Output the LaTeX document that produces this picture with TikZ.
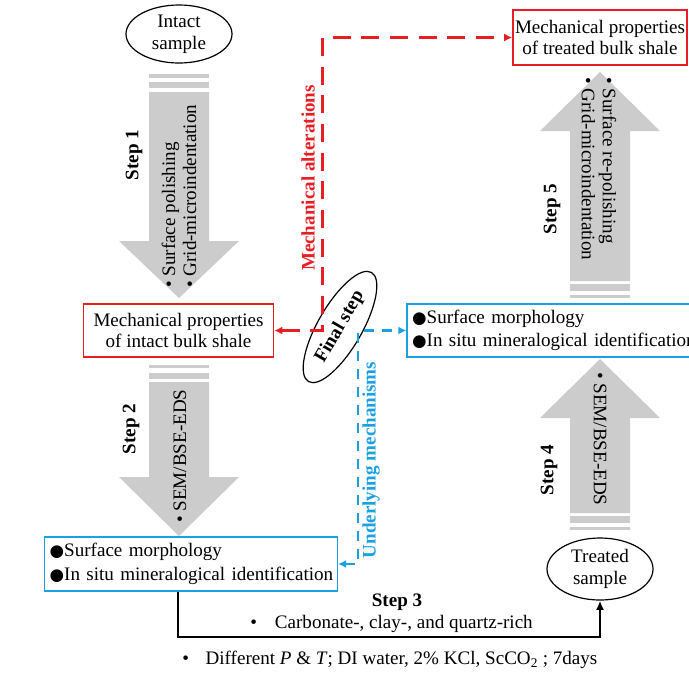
\documentclass[tikz,border=0pt]{standalone}
\usepackage{fontspec}
\setmainfont{Liberation Serif}
\newfontfamily\symfont{DejaVu Sans}
\usetikzlibrary{shapes.geometric,arrows.meta}
\definecolor{myred}{RGB}{232,30,36}
\definecolor{myblue}{RGB}{27,161,226}
\definecolor{arrowgray}{RGB}{204,204,204}
\newcommand\fs{\fontsize{14.3}{17}\selectfont}
\newcommand\bul{{\symfont\fontsize{12.5}{17}\selectfont ●}}
\begin{document}
\begin{tikzpicture}[x=0.75pt,y=-0.75pt,
  every node/.style={font=\fs, inner sep=0pt},
  boldlbl/.style={font=\fs\bfseries},
  redbox/.style={draw=myred, line width=1.2pt, align=center, font=\fontsize{14.3}{16}\selectfont},
  bluebox/.style={draw=myblue, line width=1.2pt, align=left, font=\fontsize{14.3}{17.5}\selectfont},
  sample/.style={draw, ellipse, line width=0.9pt, align=center, font=\fontsize{14.3}{16.5}\selectfont},
  arrtext/.style={align=left, font=\fontsize{14.3}{15.8}\selectfont},
  reddash/.style={draw=myred, line width=1.9pt, dash pattern=on 13.5pt off 8pt},
  bluedash/.style={draw=myblue, line width=1.7pt, dash pattern=on 7.5pt off 6pt},
  conn/.style={draw=black, line width=1.7pt, -{Latex[length=7pt,width=6pt]}},
  mytip/.tip={Latex[length=6pt,width=6pt]}
]
\useasboundingbox (0,0) rectangle (689,672);

% ---- gray process arrows ----
% Step 1 (down)
\fill[arrowgray] (149,74) rectangle (209,78);
\fill[arrowgray] (149,82) rectangle (209,88);
\fill[arrowgray] (149,92) -- (209,92) -- (209,241) -- (239,241) -- (179,298) -- (119,241) -- (149,241) -- cycle;
% Step 2 (down)
\fill[arrowgray] (149,365) rectangle (209,368);
\fill[arrowgray] (149,373) rectangle (209,379);
\fill[arrowgray] (149,382) -- (209,382) -- (209,477) -- (239,477) -- (179,536) -- (119,477) -- (149,477) -- cycle;
% Step 5 (up)
\fill[arrowgray] (570,295) rectangle (630,298);
\fill[arrowgray] (570,284) rectangle (630,291);
\fill[arrowgray] (570,281) -- (630,281) -- (630,131) -- (660,131) -- (600,72) -- (540,131) -- (570,131) -- cycle;
% Step 4 (up)
\fill[arrowgray] (570,527) rectangle (630,530);
\fill[arrowgray] (570,516) rectangle (630,523);
\fill[arrowgray] (570,513) -- (630,513) -- (630,418) -- (660,418) -- (600,359) -- (540,418) -- (570,418) -- cycle;

% ---- arrow texts ----
\node[arrtext, rotate=90, anchor=west] (t1) at (179,288) {• Surface polishing\\• Grid-microindentation};
\node[arrtext, rotate=90, anchor=west] (t2) at (180,523) {• SEM/BSE-EDS};
\node[arrtext, rotate=-90, anchor=west] (t5) at (599,77) {• Surface re-polishing\\• Grid-microindentation};
\node[arrtext, rotate=-90, anchor=west] (t4) at (600,372) {• SEM/BSE-EDS};

\node[boldlbl, rotate=90] (s1) at (134,155) {Step 1};
\node[boldlbl, rotate=90] (s2) at (131,429) {Step 2};
\node[boldlbl, rotate=90] (s5) at (552,209) {Step 5};
\node[boldlbl, rotate=90] (s4) at (549,470) {Step 4};

% ---- nodes ----
\node[sample, minimum width=79.5pt, minimum height=43.5pt] (isamp) at (179,34) {Intact\\sample};
\node[sample, minimum width=79.5pt, minimum height=46.5pt] (tsamp) at (600,569) {Treated\\sample};

\node[redbox, minimum width=142.5pt, minimum height=40pt] (ibox) at (178.5,330.5) {Mechanical properties\\of intact bulk shale};
\node[redbox, minimum width=130.5pt, minimum height=41.25pt] (tbox) at (600,37.5) {Mechanical properties\\of treated bulk shale};

\node[bluebox, inner xsep=3.75pt, text width=212pt, minimum height=40.5pt] (lbox) at (191,564)
  {\mbox{\bul Surface morphology}\\\mbox{\bul In situ mineralogical identification}};
\node[bluebox, inner xsep=3.75pt, text width=227pt, minimum height=39.75pt] (mbox) at (563.5,330.5)
  {\mbox{\bul Surface morphology}\\\mbox{\bul In situ mineralogical identification}};

\node[draw, ellipse, line width=0.9pt, rotate=60, minimum width=94.5pt, minimum height=33pt, boldlbl] (fstep) at (340,327) {Final step};

% ---- dashed feedback connectors ----
\draw[reddash, mytip-mytip] (ibox.east) -- ++(48,0) |- (tbox.west);
\draw[bluedash, mytip-mytip] (lbox.east) -- ++(20,0) |- (mbox.west);

\node[boldlbl, rotate=90, text=myred] (malt) at (308,178) {Mechanical alterations};
\node[boldlbl, rotate=90, text=myblue] (umech) at (371,460) {Underlying mechanisms};

% ---- Step 3 connector ----
\coordinate (s3) at (178,0);
\draw[conn] (lbox.south -| s3) -- ++(0,45) -| (tsamp.south);
\node[boldlbl] (st3) at (397,602) {Step 3};
\node[anchor=west] (c3) at (250,624) {•\hspace{13.5pt}Carbonate-, clay-, and quartz-rich};
\node[anchor=west] (d3) at (182,660) {•\hspace{12.5pt}Different \textit{P} \& \textit{T}; DI water, 2\% KCl, ScCO\textsubscript{2} ; 7days};
\end{tikzpicture}
\end{document}
